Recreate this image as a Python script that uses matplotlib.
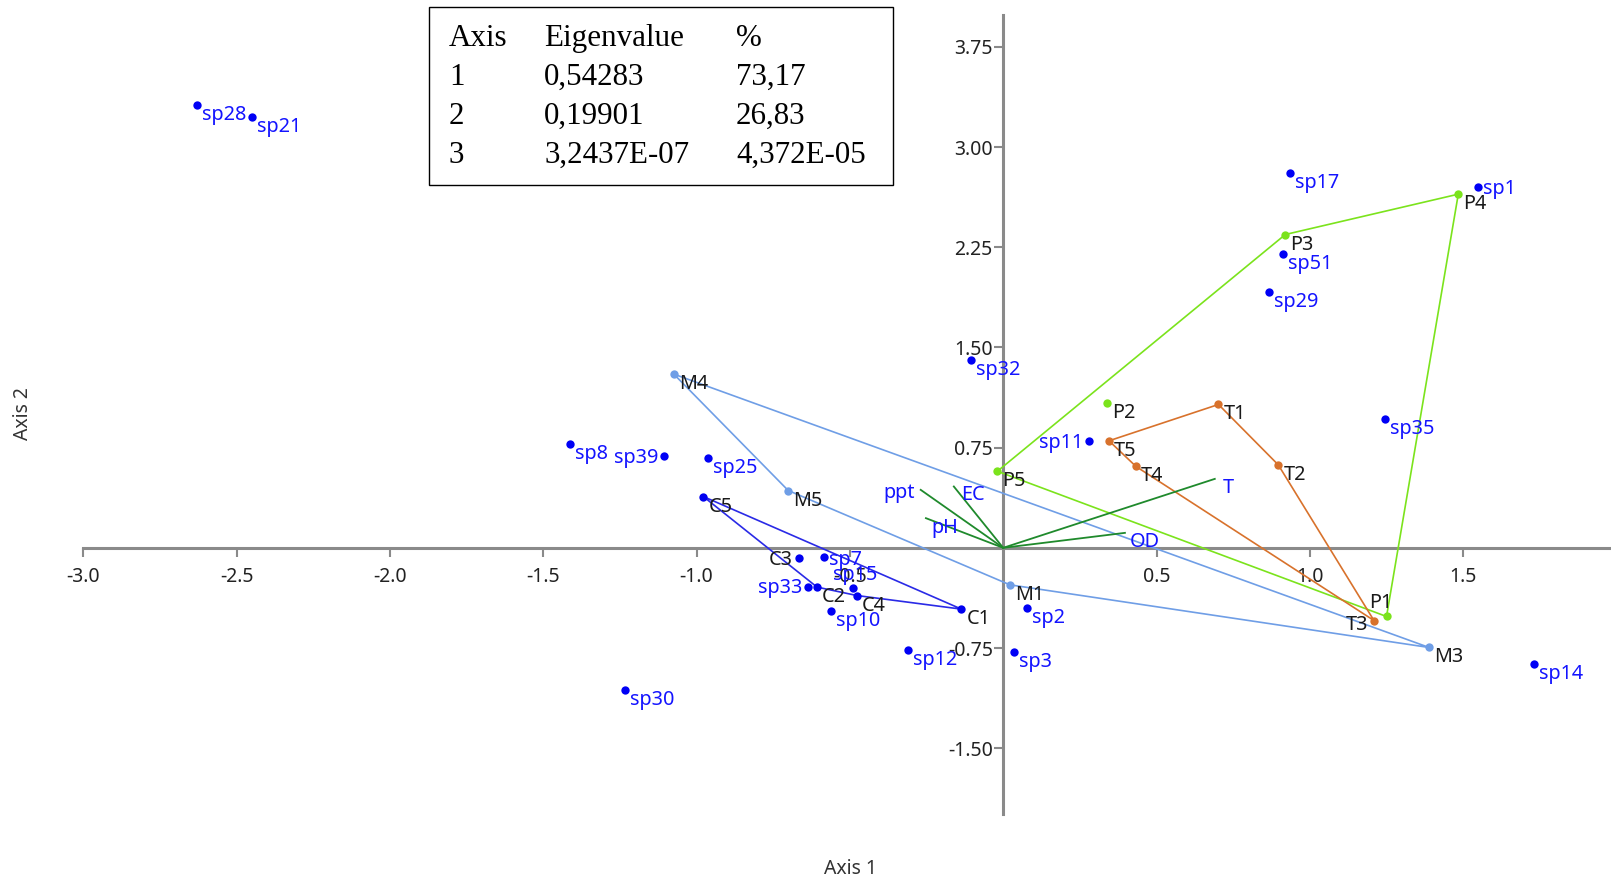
import matplotlib.pyplot as plt
from matplotlib.patches import Rectangle
from matplotlib.ticker import FormatStrFormatter

plt.rcParams['font.family'] = ['Noto Sans', 'DejaVu Sans']

# species scores
sp_names = ['sp28', 'sp21', 'sp17', 'sp1', 'sp51', 'sp29', 'sp32', 'sp11', 'sp35',
            'sp8', 'sp39', 'sp25', 'sp7', 'sp33', 'sp15', 'sp10', 'sp2', 'sp12',
            'sp3', 'sp30', 'sp14']
sp_x = [-2.629, -2.451, 0.936, 1.547, 0.914, 0.866, -0.105, 0.279, 1.245,
        -1.413, -1.105, -0.964, -0.584, -0.636, -0.491, -0.562, 0.078, -0.312,
        0.034, -1.234, 1.731]
sp_y = [3.318, 3.224, 2.805, 2.697, 2.198, 1.914, 1.407, 0.803, 0.966,
        0.778, 0.689, 0.669, -0.072, -0.294, -0.297, -0.472, -0.447, -0.763,
        -0.776, -1.063, -0.871]

# site scores by group
p_names = ['P1', 'P2', 'P3', 'P4', 'P5']
p_x = [1.250, 0.339, 0.920, 1.484, -0.019]
p_y = [-0.514, 1.083, 2.345, 2.647, 0.573]

t_names = ['T1', 'T2', 'T3', 'T4', 'T5']
t_x = [0.702, 0.897, 1.209, 0.433, 0.345]
t_y = [1.073, 0.621, -0.544, 0.609, 0.801]

m_names = ['M1', 'M3', 'M4', 'M5']
m_x = [0.022, 1.389, -1.074, -0.701]
m_y = [-0.277, -0.746, 1.300, 0.429]

c_names = ['C1', 'C2', 'C3', 'C4', 'C5']
c_x = [-0.136, -0.607, -0.666, -0.477, -0.978]
c_y = [-0.459, -0.294, -0.077, -0.357, 0.384]

# environmental variables
env_names = ['ppt', 'EC', 'pH', 'T', 'OD']
env_x = [-0.269, -0.161, -0.252, 0.690, 0.397]
env_y = [0.434, 0.459, 0.222, 0.516, 0.112]

eig_axis = ['1', '2', '3']
eig_value = ['0,54283', '0,19901', '3,2437E-07']
eig_pct = ['73,17', '26,83', '4,372E-05']

x_ticks = [-3.0, -2.5, -2.0, -1.5, -1.0, -0.5, 0.5, 1.0, 1.5]
y_ticks = [3.75, 3.00, 2.25, 1.50, 0.75, -0.75, -1.50]

# label offsets in pixels (default is below right of the dot)
default_off = (5, -10, 'left')
label_off = {
    'sp39': (-6, -2, 'right'), 'sp11': (-6, -2, 'right'),
    'C3': (-6, -2, 'right'), 'sp33': (-6, -1, 'right'),
    'T3': (-6, -4, 'right'), 'P1': (-6, 13, 'center'),
    'sp15': (-20, 13, 'left'), 'sp1': (5, -2, 'left'), 'sp7': (5, -3, 'left'),
    'ppt': (-6, -3, 'right'), 'EC': (7, -9, 'left'), 'pH': (5, -10, 'left'),
    'T': (8, -9, 'left'), 'OD': (5, -9, 'left'),
}


def hull(xs, ys):
    pts = sorted(zip(xs, ys))

    def cross(o, a, b):
        return (a[0] - o[0]) * (b[1] - o[1]) - (a[1] - o[1]) * (b[0] - o[0])
    lower, upper = [], []
    for p in pts:
        while len(lower) >= 2 and cross(lower[-2], lower[-1], p) <= 0:
            lower.pop()
        lower.append(p)
    for p in reversed(pts):
        while len(upper) >= 2 and cross(upper[-2], upper[-1], p) <= 0:
            upper.pop()
        upper.append(p)
    h = lower[:-1] + upper[:-1]
    h.append(h[0])
    return [p[0] for p in h], [p[1] for p in h]


def put_labels(ax, names, xs, ys, color):
    for n, x, y in zip(names, xs, ys):
        dx, dy, ha = label_off.get(n, default_off)
        ax.annotate(n, (x, y), xytext=(dx, dy), textcoords='offset pixels',
                    ha=ha, va='center', fontsize=14.3, color=color,
                    annotation_clip=False, zorder=6)


W, H = 1611, 884
fig = plt.figure(figsize=(W / 100, H / 100), dpi=100)
ax = fig.add_axes([83.2 / W, 1 - 813.7 / H, (W - 83.2) / W, (813.7 - 15.4) / H])
ax.set_xlim(-3.0, 1.982)
ax.set_ylim(-1.99, 3.985)

groups = [
    (p_names, p_x, p_y, '#7be31c'),
    (t_names, t_x, t_y, '#d8722c'),
    (m_names, m_x, m_y, '#6f9ee6'),
    (c_names, c_x, c_y, '#2a2ae6'),
]

for names, xs, ys, col in groups:
    hx, hy = hull(xs, ys)
    ax.plot(hx, hy, color=col, lw=1.2, zorder=2)

for x, y in zip(env_x, env_y):
    ax.plot([0, x], [0, y], color='#1f8a2c', lw=1.3, zorder=3)

for names, xs, ys, col in groups:
    dot = '#0000f0' if names is c_names else col
    ax.plot(xs, ys, 'o', color=dot, ms=6, mec='none', zorder=4)
    put_labels(ax, names, xs, ys, '#1a1a1a')

ax.plot(sp_x, sp_y, 'o', color='#0000f5', ms=6, mec='none', zorder=4)
put_labels(ax, sp_names, sp_x, sp_y, '#1414ff')
put_labels(ax, env_names, env_x, env_y, '#1414ff')

# axes crossing at the origin
for side in ['top', 'right']:
    ax.spines[side].set_visible(False)
for side in ['left', 'bottom']:
    ax.spines[side].set_position(('data', 0))
    ax.spines[side].set_color('#8a8a8a')
    ax.spines[side].set_linewidth(2.2)
    ax.spines[side].set_zorder(1)
ax.set_xticks(x_ticks)
ax.set_yticks(y_ticks)
ax.xaxis.set_major_formatter(FormatStrFormatter('%.1f'))
ax.yaxis.set_major_formatter(FormatStrFormatter('%.2f'))
ax.tick_params(axis='both', direction='out', length=6.5, width=1.5,
               color='#8a8a8a', labelsize=14, labelcolor='#222222')
ax.tick_params(axis='x', pad=7)
ax.tick_params(axis='y', pad=1)
ax.patch.set_alpha(0)

fig.text(850.7 / W, 1 - 869 / H, 'Axis 1', ha='center', va='center',
         fontsize=14, color='#333333')
fig.text(22.6 / W, 1 - 414 / H, 'Axis 2', ha='center', va='center',
         rotation=90, fontsize=14, color='#333333')

# eigenvalue table
fig.patches.append(Rectangle((429.3 / W, 1 - 185 / H), (892.7 - 429.3) / W,
                             (185 - 7.3) / H, transform=fig.transFigure,
                             fill=False, ec='black', lw=1.0))
col_x = [449, 544, 736]
row_y = [46.2, 85.0, 123.8, 162.8]
rows = [('Axis', 'Eigenvalue', '%')] + list(zip(eig_axis, eig_value, eig_pct))
for ry, row in zip(row_y, rows):
    for cx, txt in zip(col_x, row):
        fig.text(cx / W, 1 - ry / H, txt, ha='left', va='baseline',
                 fontsize=22.3, family='Liberation Serif', color='black')

fig.savefig('out.png', dpi=100)
